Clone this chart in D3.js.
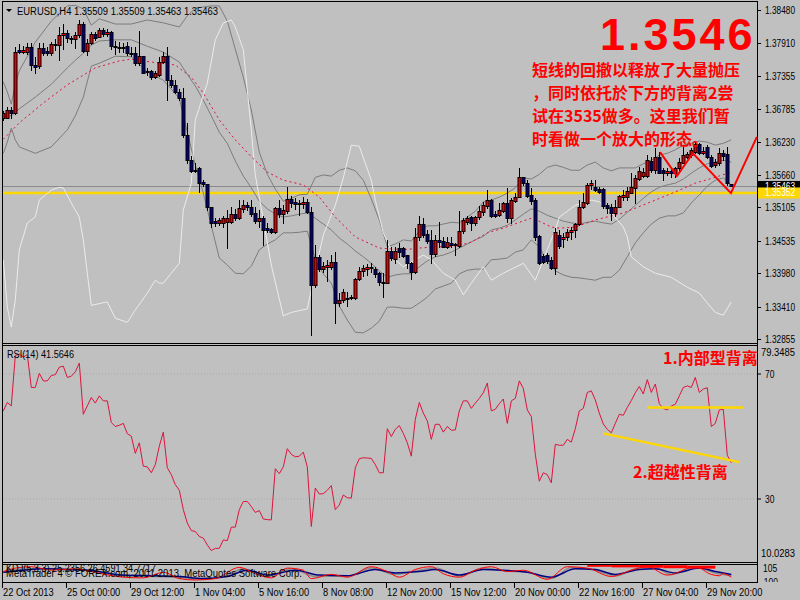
<!DOCTYPE html>
<html><head><meta charset="utf-8">
<script src="https://cdn.jsdelivr.net/npm/d3@7"></script>
<style>
body{margin:0;background:#c0c0c0;}
svg{display:block;}
.sm{font-family:"Liberation Sans",Arial,sans-serif;font-size:10px;fill:#000;}
.cn{font-family:"Noto Sans CJK SC","Noto Sans CJK TC",sans-serif;font-weight:bold;fill:#ff0000;}
</style></head><body>
<svg id="c" width="800" height="600"></svg>
<script>
// ---------------- DATA ----------------
const opens=[1.3663,1.3663,1.3677,1.3672,1.3780,1.3776,1.3776,1.3785,1.3754,1.3752,1.3783,1.3778,1.3774,1.3790,1.3788,1.3805,1.3809,1.3800,1.3798,1.3805,
1.3824,1.3778,1.3791,1.3807,1.3802,1.3814,1.3807,1.3810,1.3786,1.3785,1.3785,1.3786,1.3774,1.3774,1.3757,1.3769,1.3742,1.3744,1.3733,1.3737,
1.3759,1.3769,1.3728,1.3720,1.3708,1.3697,1.3634,1.3591,1.3573,1.3578,1.3554,1.3550,1.3511,1.3487,1.3484,1.3484,1.3485,1.3485,1.3499,1.3492,
1.3508,1.3514,1.3511,1.3501,1.3487,1.3492,1.3475,1.3473,1.3468,1.3509,1.3499,1.3504,1.3525,1.3520,1.3518,1.3516,1.3520,1.3502,1.3378,1.3426,
1.3405,1.3409,1.3409,1.3417,1.3347,1.3352,1.3356,1.3356,1.3356,1.3388,1.3402,1.3405,1.3407,1.3405,1.3398,1.3383,1.3381,1.3436,1.3422,1.3441,
1.3441,1.3429,1.3415,1.3400,1.3460,1.3482,1.3465,1.3455,1.3431,1.3455,1.3453,1.3443,1.3450,1.3448,1.3444,1.3470,1.3485,1.3494,1.3484,1.3494,
1.3502,1.3513,1.3523,1.3499,1.3497,1.3504,1.3518,1.3492,1.3521,1.3528,1.3562,1.3552,1.3532,1.3523,1.3461,1.3427,1.3429,1.3421,1.3407,1.3463,
1.3456,1.3460,1.3468,1.3472,1.3482,1.3511,1.3518,1.3549,1.3545,1.3542,1.3542,1.3514,1.3511,1.3501,1.3511,1.3528,1.3528,1.3535,1.3544,1.3559,
1.3564,1.3564,1.3590,1.3574,1.3597,1.3574,1.3569,1.3573,1.3569,1.3578,1.3586,1.3597,1.3600,1.3605,1.3619,1.3603,1.3614,1.3597,1.3583,1.3586,
1.3603,1.3602,1.35509];
const highs=[1.3675,1.3682,1.3682,1.3785,1.3790,1.3786,1.3791,1.3791,1.3768,1.3791,1.3791,1.3785,1.3793,1.3798,1.3819,1.3824,1.3814,1.3803,1.3810,1.3831,
1.3827,1.3798,1.3810,1.3810,1.3817,1.3817,1.3815,1.3812,1.3795,1.3793,1.3791,1.3793,1.3785,1.3785,1.3812,1.3769,1.3749,1.3745,1.3744,1.3768,
1.3776,1.3785,1.3737,1.3728,1.3713,1.3715,1.3655,1.3598,1.3586,1.3579,1.3557,1.3550,1.3511,1.3492,1.3492,1.3496,1.3506,1.3511,1.3508,1.3523,
1.3523,1.3520,1.3523,1.3511,1.3506,1.3496,1.3484,1.3475,1.3511,1.3523,1.3514,1.3545,1.3530,1.3526,1.3523,1.3528,1.3525,1.3511,1.3446,1.3429,
1.3417,1.3421,1.3429,1.3434,1.3364,1.3371,1.3366,1.3361,1.3390,1.3409,1.3412,1.3414,1.3415,1.3409,1.3400,1.3398,1.3455,1.3443,1.3443,1.3450,
1.3443,1.3429,1.3417,1.3475,1.3496,1.3492,1.3472,1.3472,1.3463,1.3485,1.3460,1.3460,1.3460,1.3450,1.3504,1.3492,1.3496,1.3496,1.3496,1.3513,
1.3520,1.3540,1.3525,1.3504,1.3518,1.3520,1.3544,1.3526,1.3535,1.3578,1.3562,1.3557,1.3544,1.3526,1.3463,1.3431,1.3432,1.3426,1.3475,1.3472,
1.3467,1.3473,1.3477,1.3484,1.3523,1.3535,1.3552,1.3557,1.3557,1.3545,1.3544,1.3518,1.3516,1.3523,1.3532,1.3540,1.3545,1.3569,1.3566,1.3579,
1.3578,1.3600,1.3597,1.3612,1.3605,1.3578,1.3578,1.3578,1.3579,1.3595,1.3614,1.3605,1.3612,1.3622,1.3620,1.3614,1.3617,1.3600,1.3593,1.3612,
1.3609,1.3614,1.35509];
const lows=[1.3660,1.3663,1.3663,1.3670,1.3774,1.3774,1.3773,1.3745,1.3740,1.3749,1.3771,1.3771,1.3771,1.3780,1.3762,1.3781,1.3793,1.3791,1.3783,1.3802,
1.3776,1.3771,1.3790,1.3797,1.3802,1.3803,1.3803,1.3781,1.3773,1.3776,1.3776,1.3771,1.3769,1.3754,1.3754,1.3740,1.3737,1.3730,1.3732,1.3735,
1.3757,1.3694,1.3716,1.3706,1.3694,1.3631,1.3586,1.3571,1.3571,1.3537,1.3547,1.3506,1.3477,1.3479,1.3480,1.3477,1.3441,1.3484,1.3489,1.3490,
1.3502,1.3506,1.3496,1.3484,1.3477,1.3446,1.3468,1.3467,1.3467,1.3494,1.3484,1.3501,1.3511,1.3508,1.3497,1.3509,1.3501,1.3292,1.3374,1.3402,
1.3400,1.3385,1.3405,1.3313,1.3342,1.3349,1.3342,1.3354,1.3354,1.3386,1.3393,1.3395,1.3400,1.3391,1.3378,1.3357,1.3381,1.3421,1.3415,1.3426,
1.3426,1.3407,1.3388,1.3398,1.3455,1.3460,1.3450,1.3415,1.3427,1.3443,1.3443,1.3441,1.3443,1.3429,1.3443,1.3467,1.3482,1.3472,1.3480,1.3490,
1.3497,1.3509,1.3494,1.3494,1.3496,1.3502,1.3485,1.3484,1.3520,1.3528,1.3549,1.3528,1.3516,1.3455,1.3414,1.3415,1.3415,1.3405,1.3397,1.3441,
1.3443,1.3455,1.3456,1.3460,1.3480,1.3509,1.3516,1.3542,1.3538,1.3535,1.3509,1.3501,1.3489,1.3496,1.3511,1.3523,1.3523,1.3535,1.3518,1.3557,
1.3562,1.3562,1.3571,1.3569,1.3569,1.3557,1.3566,1.3562,1.3562,1.3574,1.3586,1.3595,1.3597,1.3603,1.3602,1.3602,1.3595,1.3579,1.3579,1.3583,
1.3591,1.3549,1.35463];
const closes=[1.3672,1.3677,1.3672,1.3776,1.3776,1.3780,1.3785,1.3754,1.3750,1.3783,1.3774,1.3774,1.3790,1.3788,1.3805,1.3809,1.3800,1.3798,1.3805,1.3824,
1.3778,1.3791,1.3807,1.3800,1.3814,1.3807,1.3810,1.3786,1.3785,1.3783,1.3784,1.3774,1.3773,1.3757,1.3769,1.3740,1.3744,1.3733,1.3740,1.3759,
1.3769,1.3728,1.3720,1.3708,1.3697,1.3634,1.3591,1.3573,1.3574,1.3552,1.3550,1.3511,1.3484,1.3484,1.3489,1.3492,1.3492,1.3499,1.3492,1.3509,
1.3514,1.3511,1.3499,1.3487,1.3492,1.3472,1.3472,1.3468,1.3509,1.3499,1.3506,1.3525,1.3518,1.3516,1.3516,1.3520,1.3502,1.3378,1.3426,1.3405,
1.3410,1.3412,1.3417,1.3347,1.3352,1.3366,1.3354,1.3357,1.3388,1.3402,1.3407,1.3409,1.3408,1.3397,1.3383,1.3381,1.3436,1.3424,1.3436,1.3434,
1.3427,1.3415,1.3400,1.3460,1.3482,1.3463,1.3453,1.3431,1.3455,1.3451,1.3443,1.3451,1.3446,1.3446,1.3470,1.3489,1.3492,1.3484,1.3494,1.3504,
1.3514,1.3523,1.3496,1.3496,1.3506,1.3518,1.3492,1.3523,1.3528,1.3562,1.3552,1.3530,1.3521,1.3460,1.3415,1.3417,1.3419,1.3407,1.3468,1.3444,
1.3460,1.3468,1.3472,1.3482,1.3511,1.3520,1.3549,1.3552,1.3540,1.3537,1.3513,1.3509,1.3501,1.3511,1.3530,1.3532,1.3538,1.3545,1.3561,1.3573,
1.3571,1.3591,1.3574,1.3597,1.3569,1.3569,1.3573,1.3569,1.3578,1.3588,1.3600,1.3602,1.3609,1.3619,1.3603,1.3607,1.3597,1.3581,1.3588,1.3603,
1.3598,1.3552,1.35463];

// Bollinger bands (gray), sampled at bars
const bbBars=[0,1,2,3,4,8,12,16,18,20,22,24,28,32,36,40,44,46,48,50,52,54,56,58,60,62,64,66,68,70,72,74,76,78,80,82,84,86,88,90,92,94,96,98,100,102,104,106,108,110,112,114,116,118,120,122,124,126,128,130,132,134,136,138,140,142,144,146,148,150,152,154,156,158,160,162,164,166,168,170,172,174,176,178,180,182];
const bbUpper=[1.3725,1.3708,1.3687,1.3721,1.3744,1.3793,1.3829,1.3855,1.3856,1.3850,1.3822,1.3833,1.3824,1.3824,1.3831,1.3826,1.3819,1.3838,1.3851,1.3853,1.3855,1.3855,1.3829,1.3781,1.3733,1.3677,1.3605,1.3567,1.3542,1.3521,1.3526,1.3532,1.3533,1.3562,1.3566,1.3564,1.3574,1.3578,1.3573,1.3557,1.3525,1.3489,1.3443,1.3448,1.3455,1.3453,1.3470,1.3479,1.3479,1.3482,1.3485,1.3484,1.3494,1.3504,1.3520,1.3523,1.3528,1.3535,1.3544,1.3561,1.3559,1.3567,1.3579,1.3583,1.3579,1.3574,1.3574,1.3583,1.3588,1.3578,1.3573,1.3578,1.3578,1.3578,1.3585,1.3591,1.3600,1.3603,1.3609,1.3617,1.3620,1.3624,1.3622,1.3617,1.3620,1.3626];
const bbMid=[1.3665,1.3667,1.3667,1.3673,1.3679,1.3699,1.3721,1.3749,1.3762,1.3774,1.3788,1.3795,1.3797,1.3797,1.3786,1.3776,1.3759,1.3738,1.3718,1.3694,1.3667,1.3639,1.3620,1.3590,1.3564,1.3544,1.3521,1.3508,1.3499,1.3494,1.3496,1.3499,1.3501,1.3492,1.3482,1.3472,1.3458,1.3448,1.3436,1.3426,1.3415,1.3402,1.3391,1.3395,1.3397,1.3397,1.3409,1.3419,1.3426,1.3429,1.3434,1.3441,1.3448,1.3455,1.3461,1.3472,1.3475,1.3480,1.3489,1.3499,1.3508,1.3504,1.3497,1.3492,1.3487,1.3484,1.3482,1.3485,1.3487,1.3484,1.3482,1.3490,1.3502,1.3514,1.3526,1.3537,1.3545,1.3549,1.3552,1.3559,1.3569,1.3578,1.3585,1.3588,1.3591,1.3588];
const bbLower=[1.3603,1.3622,1.3646,1.3626,1.3614,1.3603,1.3614,1.3643,1.3667,1.3699,1.3752,1.3757,1.3769,1.3768,1.3742,1.3728,1.3697,1.3639,1.3583,1.3535,1.3479,1.3424,1.3412,1.3398,1.3397,1.3410,1.3438,1.3448,1.3455,1.3467,1.3467,1.3468,1.3470,1.3422,1.3397,1.3381,1.3342,1.3318,1.3297,1.3296,1.3304,1.3316,1.3340,1.3340,1.3338,1.3338,1.3347,1.3357,1.3371,1.3376,1.3381,1.3397,1.3403,1.3405,1.3405,1.3421,1.3422,1.3424,1.3434,1.3438,1.3455,1.3443,1.3417,1.3402,1.3395,1.3391,1.3390,1.3388,1.3386,1.3391,1.3391,1.3403,1.3426,1.3450,1.3467,1.3482,1.3492,1.3496,1.3496,1.3501,1.3518,1.3532,1.3547,1.3557,1.3561,1.3549];

// red dashed moving average
const maBars=[0,4,10,16,23,29,32,37,43,47,50,54,58,62,66,70,75,79,83,88,94,100,104,108,113,117,121,125,129,132,133,137,139,143,148,155,163,168,173,178,182];
const maVals=[1.3627,1.3655,1.3689,1.3720,1.3749,1.3761,1.3764,1.3759,1.3754,1.3733,1.3706,1.3660,1.3626,1.3597,1.3571,1.3557,1.3549,1.3528,1.3494,1.3460,1.3441,1.3438,1.3441,1.3443,1.3444,1.3451,1.3467,1.3475,1.3485,1.3492,1.3490,1.3477,1.3475,1.3477,1.3489,1.3501,1.3523,1.3537,1.3552,1.3562,1.3571];

// light (white) indicator line
const wBars=[0,1,2,3,4,6,8,9,12,14,15,17,19,20,21,22,26,28,31,33,36,38,39,40,42,44,45,47,48,51,53,55,57,58,60,62,63,67,70,72,76,78,80,83,85,87,89,92,93,95,98,100,103,105,107,110,113,115,117,120,122,125,130,133,136,138,139,143,147,149,152,155,156,157,160,163,167,171,174,176,178,180,182];
const wVals=[1.3421,1.3340,1.3306,1.3352,1.3438,1.3484,1.3494,1.3523,1.3540,1.3545,1.3544,1.3518,1.3494,1.3455,1.3398,1.3343,1.3349,1.3321,1.3314,1.3335,1.3364,1.3386,1.3381,1.3381,1.3398,1.3415,1.3506,1.3552,1.3660,1.3723,1.3797,1.3826,1.3831,1.3819,1.3780,1.3643,1.3566,1.3412,1.3325,1.3331,1.3337,1.3403,1.3463,1.3514,1.3561,1.3617,1.3615,1.3557,1.3523,1.3467,1.3421,1.3409,1.3421,1.3429,1.3421,1.3398,1.3386,1.3361,1.3381,1.3409,1.3386,1.3398,1.3415,1.3386,1.3438,1.3472,1.3494,1.3514,1.3523,1.3520,1.3501,1.3477,1.3460,1.3426,1.3409,1.3398,1.3391,1.3374,1.3364,1.3347,1.3331,1.3326,1.3349];

const rsi=[58.2,60.9,59.8,75.9,76.4,75.4,76.2,65.7,65.7,70.2,67.8,67.8,69.5,69.8,72.2,72.5,68.9,69.3,70.7,73.5,
57.1,59.8,62.5,60.7,63.0,61.4,61.4,54.5,53.2,53.6,54.2,50.9,50.1,44.6,48.0,40.5,40.3,38.4,41.0,46.9,
51.4,40.0,37.8,34.6,32.8,26.6,22.3,19.9,19.6,18.0,17.5,15.3,13.5,14.2,14.2,16.9,16.7,21.0,21.0,26.6,
29.2,29.2,27.6,25.7,26.3,23.6,23.4,23.3,39.7,38.1,40.3,46.1,44.3,43.5,43.7,45.0,40.3,21.2,33.5,31.6,
31.7,32.8,34.3,26.6,28.1,31.3,30.4,30.3,40.0,42.9,43.2,43.1,43.0,41.0,38.4,38.4,52.5,50.0,52.3,53.5,
51.0,48.0,43.7,55.5,60.9,57.5,55.0,49.1,53.9,53.9,51.4,53.2,52.0,52.1,58.2,61.4,61.4,59.0,60.7,62.2,
64.0,67.1,58.2,58.7,60.5,62.0,54.2,61.4,62.2,67.8,65.4,58.5,56.4,44.3,35.7,38.4,37.8,35.2,47.5,47.2,
47.2,49.1,48.2,52.5,58.2,59.0,64.1,64.6,61.7,57.5,54.0,52.3,51.2,54.2,57.1,56.8,59.3,61.5,64.0,66.0,
63.6,68.2,64.1,66.8,60.5,59.0,58.5,59.8,60.3,63.0,65.7,66.2,65.7,68.9,64.1,65.2,65.6,53.2,54.2,58.5,
58.7,44.0,41.5646];

// KDJ panel (0-100 scale), sampled at bars
const kdjJBars=[0,3,7,12,18,22,30,35,40,44,48,53,59,63,67,71,75,77,82,86,92,96,99,103,107,110,114,118,122,126,130,136,141,146,152,157,161,166,173,177,179,180,182];
const kdjJ=[60,85,95,70,80,60,20,15,55,10,0,10,90,45,15,85,70,10,40,20,95,60,20,75,95,45,20,70,95,60,70,5,95,85,25,70,95,35,95,40,30,45,20];
const kdjDBars=[0,5,10,16,22,30,38,44,50,56,61,66,73,79,86,93,98,104,108,114,120,125,131,137,143,148,153,159,163,168,174,178,182];
const kdjD=[55,70,80,75,68,35,30,25,10,25,70,35,70,35,30,75,50,60,75,35,75,70,55,20,80,75,40,75,80,50,85,60,40];
const kdjKBars=[0,5,10,16,22,30,38,44,50,56,60,66,72,78,86,92,98,104,108,114,120,125,131,137,142,148,153,159,163,167,173,178,182];
const kdjK=[58,78,80,78,62,28,25,18,5,35,80,25,80,25,28,85,40,70,85,28,85,65,55,10,90,70,30,85,85,40,92,50,30];
const kdjTopBars=[[146,152],[152,159],[159,165],[165,171],[171,178]];
const kdjTopVals=[105,101,98,95,92];

const priceTicks=[1.38480,1.37910,1.37355,1.36785,1.36230,1.35660,1.35105,1.34535,1.33980,1.33410,1.32855];
const timeLabels=["22 Oct 2013","25 Oct 00:00","29 Oct 12:00","1 Nov 04:00","5 Nov 16:00","8 Nov 08:00","12 Nov 20:00","15 Nov 12:00","20 Nov 00:00","22 Nov 16:00","27 Nov 04:00","29 Nov 20:00"];
const timeBars=[0,16,32,48,64,80,96,112,128,144,160,176];

const bidPrice=1.35463, supportPrice=1.35352;
const zigBars=[164.2,168.4,172.4,181.9,188.4];
const zigVals=[1.3605,1.3564,1.3603,1.3535,1.3631];
const rsiLine1={bars:[161,185],vals:[59.3,59.3]};
const rsiLine2={bars:[150,184],vals:[51.0,41.8]};
const noteLines=["短线的回撤以释放了大量抛压","，同时依托於下方的背离2尝","试在3535做多。这里我们暂","时看做一个放大的形态。"];

// ---------------- DRAW ----------------
const svg=d3.select("#c");
svg.append("rect").attr("width",800).attr("height",600).attr("fill","#c0c0c0");
const x=d3.scaleLinear().domain([0,182]).range([3.3,731.3]);
const yP=d3.scaleLinear().domain([1.32855,1.38480]).range([339,10]);
const yR=d3.scaleLinear().domain([30,70]).range([499,374]);
const yK=d3.scaleLinear().domain([0,100]).range([580,566]);

function sm(g,xx,yy,s,opt){
  const t=g.append("text").attr("class","sm").attr("x",xx).attr("y",yy).text(s);
  if(opt&&opt.fill) t.style("fill",opt.fill);
  const w=t.node().getComputedTextLength();
  const target=opt&&opt.len?opt.len:(opt&&opt.scale?w*opt.scale:null);
  if(target) t.attr("textLength",target).attr("lengthAdjust","spacingAndGlyphs");
  return t;
}

const defs=svg.append("defs");
defs.append("clipPath").attr("id","cm").append("rect").attr("x",3).attr("y",2).attr("width",754).attr("height",341);
defs.append("clipPath").attr("id","cr").append("rect").attr("x",3).attr("y",346).attr("width",754).attr("height",216);
defs.append("clipPath").attr("id","ck").append("rect").attr("x",3).attr("y",565).attr("width",754).attr("height",17);
defs.append("clipPath").attr("id","cka").append("rect").attr("x",758).attr("y",565).attr("width",42).attr("height",17);

const gm=svg.append("g").attr("clip-path","url(#cm)");
gm.append("line").attr("x1",0).attr("x2",757).attr("y1",Math.round(yP(bidPrice))+0.5).attr("y2",Math.round(yP(bidPrice))+0.5).attr("stroke","#8a8a8a");
gm.append("line").attr("x1",0).attr("x2",757).attr("y1",yP(supportPrice)).attr("y2",yP(supportPrice)).attr("stroke","#ffd700").attr("stroke-width",2.5);

const lineP=d3.line().x(d=>x(d[0])).y(d=>yP(d[1]));
[bbUpper,bbMid,bbLower].forEach(arr=>gm.append("path").attr("d",lineP(bbBars.map((b,i)=>[b,arr[i]]))).attr("fill","none").attr("stroke","#7c7c7c").attr("stroke-width",1));
gm.append("path").attr("d",lineP(wBars.map((b,i)=>[b,wVals[i]]))).attr("fill","none").attr("stroke","#ececec").attr("stroke-width",1);
gm.append("path").attr("d",lineP(maBars.map((b,i)=>[b,maVals[i]]))).attr("fill","none").attr("stroke","#e0103c").attr("stroke-width",1).attr("stroke-dasharray","2,3");

// candles
const cg=gm.append("g");
opens.forEach((o,i)=>{
  const xc=Math.round(x(i))+0.5;
  cg.append("line").attr("x1",xc).attr("x2",xc).attr("y1",Math.round(yP(highs[i]))).attr("y2",Math.round(yP(lows[i]))+1).attr("stroke","#000");
  const yo=Math.round(yP(o)), yc=Math.round(yP(closes[i]));
  const top=Math.min(yo,yc), h=Math.max(1,Math.abs(yo-yc));
  cg.append("rect").attr("x",xc-1.5).attr("y",top+0.5).attr("width",3).attr("height",h)
    .attr("fill",closes[i]>o?"#e60000":"#000080").attr("stroke","#000").attr("stroke-width",1);
});

// zigzag
gm.append("path").attr("d",lineP(zigBars.map((b,i)=>[b,zigVals[i]]))).attr("fill","none").attr("stroke","#ff0000").attr("stroke-width",2);

// header
svg.append("path").attr("d","M6,9 L12,9 L9,12 Z").attr("fill","#000");
sm(svg,17,15,"EURUSD,H4  1.35509 1.35509 1.35463 1.35463",{len:201});

// big price + note
svg.append("text").attr("x",600).attr("y",50).attr("font-family","Liberation Sans, Arial, sans-serif").attr("font-weight","bold").attr("font-size",45).attr("letter-spacing",3).attr("fill","#ff0000").text("1.3546");
noteLines.forEach((t,i)=>svg.append("text").attr("class","cn").attr("font-size",16).attr("x",532).attr("y",76+i*23).text(t));

// RSI
const gr=svg.append("g").attr("clip-path","url(#cr)");
[70,30].forEach(v=>gr.append("line").attr("x1",3).attr("x2",757).attr("y1",yR(v)).attr("y2",yR(v)).attr("stroke","#aaaaaa").attr("stroke-dasharray","1,2"));
const lineR=d3.line().x((d,i)=>x(i)).y(d=>yR(d));
gr.append("path").attr("d",lineR(rsi)).attr("fill","none").attr("stroke","#dc143c").attr("stroke-width",1);
const lineR2=d3.line().x(d=>x(d[0])).y(d=>yR(d[1]));
[rsiLine1,rsiLine2].forEach(l=>gr.append("path").attr("d",lineR2(l.bars.map((b,i)=>[b,l.vals[i]]))).attr("stroke","#ffd700").attr("stroke-width",2.5).attr("fill","none"));
sm(svg,7,358,"RSI(14) 41.5646",{len:67});
svg.append("text").attr("class","cn").attr("font-size",16).attr("x",663).attr("y",364).text("1.内部型背离");
svg.append("text").attr("class","cn").attr("font-size",16).attr("x",633).attr("y",478).text("2.超越性背离");

// KDJ panel
const gk=svg.append("g").attr("clip-path","url(#ck)");
const lineK=d3.line().x(d=>x(d[0])).y(d=>yK(d[1])).curve(d3.curveMonotoneX);
gk.append("path").attr("d",lineK(kdjKBars.map((b,i)=>[b,kdjK[i]]))).attr("fill","none").attr("stroke","#8c8c8c").attr("stroke-width",1.5);
gk.append("path").attr("d",lineK(kdjDBars.map((b,i)=>[b,kdjD[i]]))).attr("fill","none").attr("stroke","#000080").attr("stroke-width",1.5);
gk.append("path").attr("d",lineK(kdjJBars.map((b,i)=>[b,kdjJ[i]]))).attr("fill","none").attr("stroke","#ff0000").attr("stroke-width",1);
kdjTopBars.forEach((b,i)=>gk.append("line").attr("x1",x(b[0])).attr("x2",x(b[1])).attr("y1",yK(kdjTopVals[i])).attr("y2",yK(kdjTopVals[i])).attr("stroke","#ff0000").attr("stroke-width",3));

// panel borders
function hline(y,x1,x2){svg.append("line").attr("x1",x1).attr("x2",x2).attr("y1",y).attr("y2",y).attr("stroke","#000");}
hline(1.5,2,757.5);hline(343.5,2,757.5);hline(345.5,2,757.5);hline(562.5,2,757.5);hline(564.5,2,757.5);hline(582.5,2,757.5);
svg.append("line").attr("x1",2.5).attr("x2",2.5).attr("y1",1).attr("y2",583).attr("stroke","#000");
svg.append("line").attr("x1",757.5).attr("x2",757.5).attr("y1",1).attr("y2",583).attr("stroke","#000");

// price axis
priceTicks.forEach(p=>{
  const yy=Math.round(yP(p))+0.5;
  svg.append("line").attr("x1",757).attr("x2",761).attr("y1",yy).attr("y2",yy).attr("stroke","#000");
  sm(svg,765,yy+3.5,p.toFixed(5),{len:30});
});
svg.append("rect").attr("x",758).attr("y",yP(bidPrice)-5.5).attr("width",42).attr("height",11).attr("fill","#000");
sm(svg,765,yP(bidPrice)+3.5,bidPrice.toFixed(5),{len:30,fill:"#fff"});
svg.append("rect").attr("x",758).attr("y",yP(supportPrice)-5.5).attr("width",42).attr("height",11).attr("fill","#ffd700");
sm(svg,765,yP(supportPrice)+3.5,supportPrice.toFixed(5),{len:30,fill:"#fff"});

// RSI axis
sm(svg,761,356,"79.3485",{len:34});
[70,30].forEach(v=>{svg.append("line").attr("x1",757).attr("x2",761).attr("y1",yR(v)).attr("y2",yR(v)).attr("stroke","#000");
  sm(svg,765,yR(v)+3.5,String(v),{scale:0.85});});
sm(svg,761,557,"10.0283",{len:34});
sm(svg,763,572,"105",{scale:0.85});
sm(svg.append("g").attr("clip-path","url(#cka)"),761,586,"-100",{scale:0.85});

// bottom texts
sm(svg,6,572,"KDJ(5,3,3) 25.2356 26.4591 34.7717",{len:150});
sm(svg,6,577,"MetaTrader 4 © FOREX.com, 2001-2013, MetaQuotes Software Corp.",{len:296});

// time axis
timeBars.forEach((b,i)=>{
  const xx=Math.round(x(b))-0.5;
  svg.append("line").attr("x1",xx).attr("x2",xx).attr("y1",583).attr("y2",588).attr("stroke","#000");
  sm(svg,xx+0.5,596,timeLabels[i],{scale:0.93});
});
</script>
</body></html>
